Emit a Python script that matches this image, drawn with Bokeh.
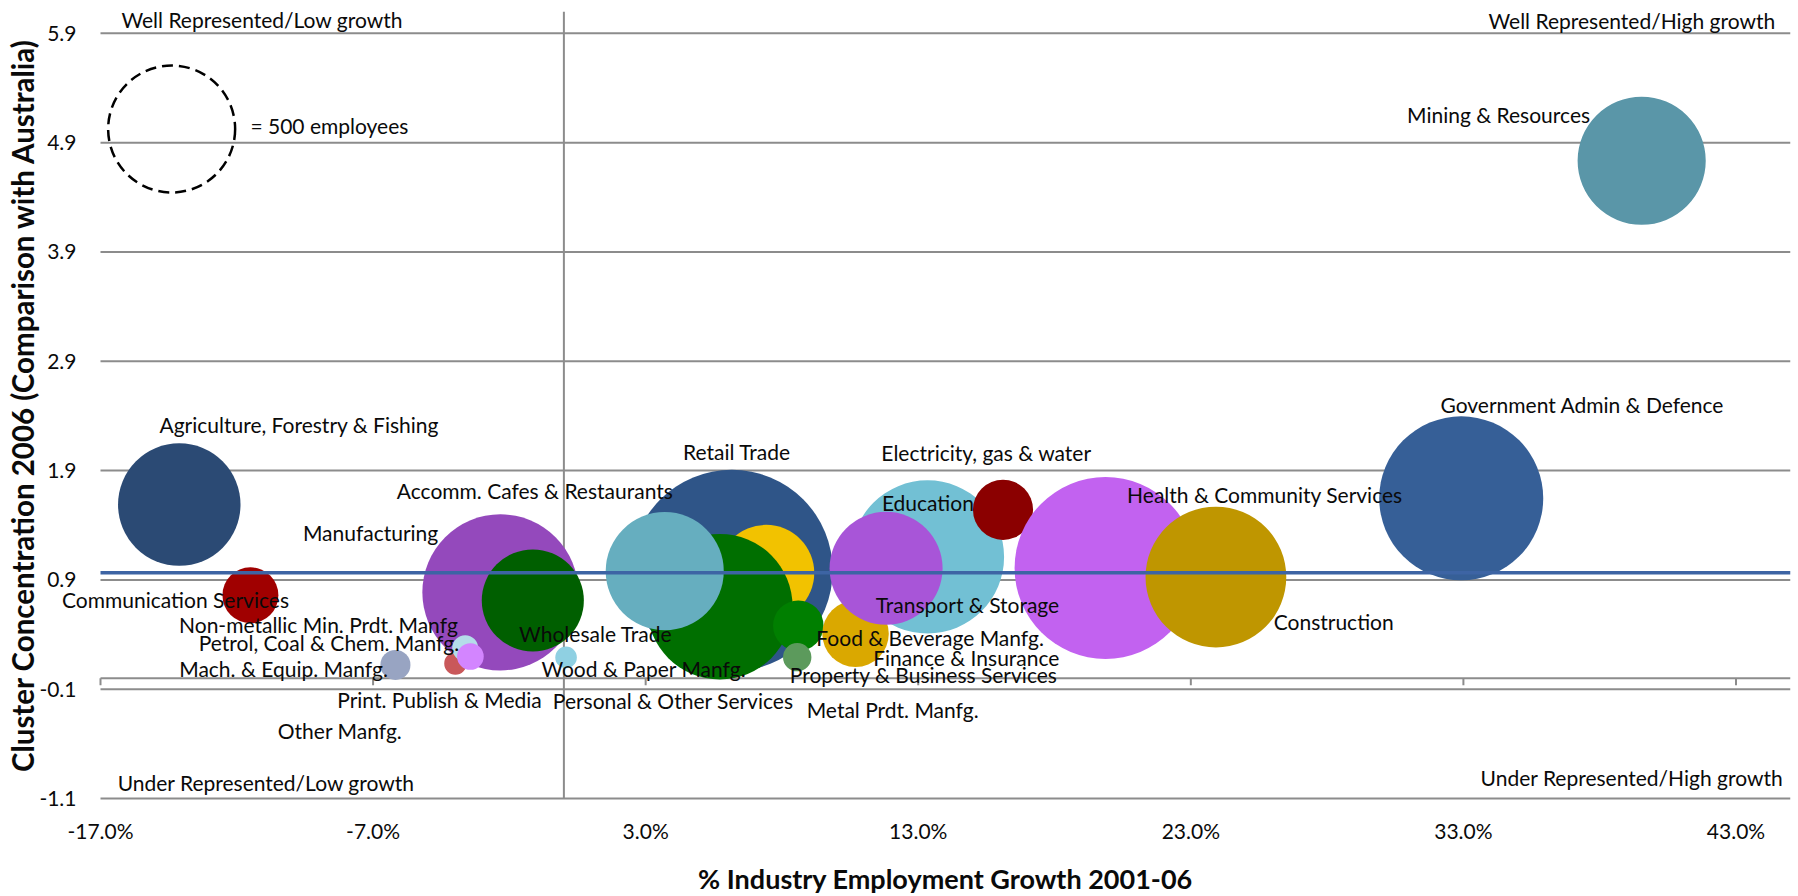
import numpy as np
from bokeh.plotting import figure
from bokeh.models import (Label, FixedTicker, PrintfTickFormatter,
                          ColumnDataSource, Range1d)
from bokeh.embed import file_html
from bokeh.resources import INLINE

# ---------------- data (in drawing order) ----------------
industries = [
    "Other Manfg.",
    "Agriculture, Forestry & Fishing",
    "Communication Services",
    "Manufacturing",
    "Accomm. Cafes & Restaurants",
    "Mach. & Equip. Manfg.",
    "Petrol, Coal & Chem. Manfg.",
    "Non-metallic Min. Prdt. Manfg",
    "Print. Publish & Media",
    "Wood & Paper Manfg.",
    "Retail Trade",
    "Personal & Other Services",
    "Property & Business Services",
    "Wholesale Trade",
    "Finance & Insurance",
    "Metal Prdt. Manfg.",
    "Education",
    "Food & Beverage Manfg.",
    "Transport & Storage",
    "Electricity, gas & water",
    "Health & Community Services",
    "Construction",
    "Government Admin & Defence",
    "Mining & Resources",
]
# % industry employment growth 2001-06
growth = [-6.0, -14.11, -11.50, -2.33, -1.14, -6.18, -3.98, -3.62, -3.43, 0.08,
          6.16, 7.42, 5.72, 3.70, 8.60, 8.56, 13.34, 10.70, 11.82, 16.11,
          19.87, 23.92, 32.92, 39.54]
# cluster concentration 2006 (location quotient vs Australia)
concentration = [0.133, 1.589, 0.759, 0.786, 0.712, 0.122, 0.135, 0.275, 0.199, 0.191,
                 0.985, 0.964, 0.655, 0.980, 0.481, 0.193, 1.110, 0.408, 1.006, 1.541,
                 1.009, 0.926, 1.646, 4.735]
# employees (bubble size)
employees = [10, 465, 97, 755, 323, 28, 15.5, 21, 22, 14.4,
             1263, 287, 657, 432, 79, 25, 727, 137, 396, 112,
             1025, 614, 834, 509]

x_ticks = [-17, -7, 3, 13, 23, 33, 43]
y_ticks = [-1.1, -0.1, 0.9, 1.9, 2.9, 3.9, 4.9, 5.9]
benchmark_concentration = 0.965
growth_divider = 0.0
legend_employees = 500

quadrant_labels = ["Well Represented/Low growth", "Well Represented/High growth",
                   "Under Represented/Low growth", "Under Represented/High growth"]

# ---------------- styles / layout ----------------
colors = ["#9aa7c4", "#2b4a74", "#a00000", "#9449bc", "#005f00", "#98a4c2", "#c9585a",
          "#b4dde9", "#d385ff", "#8fd0e2", "#2f5588", "#f2c200", "#006f00", "#66aebf",
          "#007f00", "#5c9a5c", "#72c0d4", "#daa800", "#a855d8", "#8b0000", "#c262f0",
          "#bf9600", "#365f97", "#5a96a8"]
# label offsets from bubble centre (screen px, dy positive = downwards)
label_dx = [-60.3, 119.9, -74.9, -129.8, 2.0, -111.9, -126.5, -146.8, -30.9, 77.7,
            5.0, -93.0, 203.8, -69.1, 168.0, 95.5, 0.4, 74.6, 81.4, -16.6,
            159.4, 117.8, 121.1, -143.1]
label_dy = [66.3, -79.9, 4.0, -59.4, -109.7, 4.0, -21.1, -24.2, 43.2, 10.7,
            -119.2, 127.9, 68.0, 62.8, 31.7, 52.8, -54.5, 3.4, 36.4, -57.3,
            -73.3, 44.3, -93.7, -46.0]
LEGEND_DIAM = 127  # px for 500 employees
FONT = "Lato"
GRID = "#8c8c8c"
TXT = "#0a0a0a"
W, H = 1798, 896
MB_R, MB_T = 8, 11
AXIS_LEFT_PX = 100       # screen x of the value axis
AXIS_BOTTOM_PX = 98      # distance of the value area's bottom from the canvas bottom
X_MIN, X_MAX = -17, 45
Y0, Y1 = -1.1, 6.1
TICK_PX = 7

# The frame covers the whole canvas (except small right/top margins) so that
# texts outside the value area are never clipped; axes are drawn at fixed
# locations on the value area's edges.
px_x = (W - MB_R - AXIS_LEFT_PX) / (X_MAX - X_MIN)
px_y = (H - MB_T - AXIS_BOTTOM_PX) / (Y1 - Y0)
x_start = X_MIN - AXIS_LEFT_PX / px_x
y_start = Y0 - AXIS_BOTTOM_PX / px_y

sizes = [LEGEND_DIAM * np.sqrt(e / legend_employees) for e in employees]
src = ColumnDataSource(dict(x=growth, y=concentration, size=sizes, color=colors,
                            name=industries))

p = figure(width=W, height=H, x_range=Range1d(x_start, X_MAX),
           y_range=Range1d(y_start, Y1),
           output_backend="svg", toolbar_location=None,
           min_border_left=0, min_border_right=MB_R, min_border_top=MB_T,
           min_border_bottom=0)
p.outline_line_color = None
p.background_fill_color = "white"
p.xgrid.visible = False
p.ygrid.visible = False

# horizontal gridlines, across the value area
grid_r = p.segment(x0=[X_MIN] * len(y_ticks), y0=y_ticks, x1=[X_MAX] * len(y_ticks),
                   y1=y_ticks, line_color=GRID, line_width=2)
grid_r.level = "underlay"

# y axis at x = -17
p.yaxis.fixed_location = X_MIN
p.yaxis.bounds = (Y0, Y1)
p.yaxis.ticker = FixedTicker(ticks=y_ticks)
p.yaxis.formatter = PrintfTickFormatter(format="%.1f")
p.yaxis.axis_line_color = None
p.yaxis.major_tick_line_color = None
p.yaxis.minor_tick_line_color = None
p.yaxis.major_tick_out = 0
p.yaxis.major_label_standoff = 24
p.yaxis.major_label_text_font = FONT
p.yaxis.major_label_text_font_size = "21px"
p.yaxis.major_label_text_color = TXT
p.yaxis.axis_label = "Cluster Concentration 2006 (Comparison with Australia)"
p.yaxis.axis_label_text_font = FONT
p.yaxis.axis_label_text_font_style = "bold"
p.yaxis.axis_label_text_font_size = "29.5px"
p.yaxis.axis_label_text_color = TXT
p.yaxis.axis_label_standoff = -4

# x axis at y = -1.1
p.xaxis.fixed_location = Y0
p.xaxis.bounds = (X_MIN, X_MAX)
p.xaxis.ticker = FixedTicker(ticks=x_ticks)
p.xaxis.formatter = PrintfTickFormatter(format="%.1f%%")
p.xaxis.axis_line_color = None
p.xaxis.major_tick_line_color = None
p.xaxis.minor_tick_line_color = None
p.xaxis.major_tick_out = 0
p.xaxis.major_label_standoff = 19
p.xaxis.major_label_text_font = FONT
p.xaxis.major_label_text_font_size = "21px"
p.xaxis.major_label_text_color = TXT
p.xaxis.axis_label = "% Industry Employment Growth 2001-06"
p.xaxis.axis_label_text_font = FONT
p.xaxis.axis_label_text_font_style = "bold"
p.xaxis.axis_label_text_font_size = "27px"
p.xaxis.axis_label_text_color = TXT
p.xaxis.axis_label_standoff = 16

# horizontal axis line crossing at y = 0, with ticks pointing down
zl = p.segment(x0=[X_MIN], y0=[0], x1=[X_MAX], y1=[0], line_color=GRID, line_width=2)
zl.level = "underlay"
tick_len = TICK_PX / px_y
ticks_r = p.segment(x0=x_ticks, y0=[0] * len(x_ticks), x1=x_ticks,
                    y1=[-tick_len] * len(x_ticks), line_color=GRID, line_width=2)
ticks_r.level = "underlay"

# vertical divider (behind bubbles)
vd = p.segment(x0=[growth_divider], y0=[Y0], x1=[growth_divider], y1=[Y1],
               line_color=GRID, line_width=2)
vd.level = "underlay"

# bubbles
p.scatter("x", "y", size="size", fill_color="color", line_color=None, source=src)

# benchmark line (on top of bubbles)
p.segment(x0=[X_MIN], y0=[benchmark_concentration], x1=[X_MAX],
          y1=[benchmark_concentration], line_color="#3d64a4", line_width=3.5)

# data labels
for name, xx, yy, dx, dy in zip(industries, growth, concentration, label_dx, label_dy):
    p.add_layout(Label(x=xx, y=yy, text=name, x_offset=dx, y_offset=-dy,
                       text_align="center", text_baseline="middle",
                       text_font=FONT, text_font_size="21px", text_color=TXT))

# size legend
p.scatter(x=[-14.39], y=[5.025], size=LEGEND_DIAM, fill_color=None, line_color="black",
          line_dash="11 6", line_width=2.5)
p.add_layout(Label(x=-11.5, y=5.056, text=f"= {legend_employees} employees",
                   text_align="left", text_baseline="middle", text_font=FONT,
                   text_font_size="21px", text_color=TXT))

# quadrant labels
qx = [-11.07, 39.18, -10.92, 39.18]
qy = [6.026, 6.02, -0.953, -0.907]
for t, xx, yy in zip(quadrant_labels, qx, qy):
    p.add_layout(Label(x=xx, y=yy, text=t, text_align="center", text_baseline="middle",
                       text_font=FONT, text_font_size="21px", text_color=TXT))

open("out.html", "w").write(file_html(p, INLINE))
